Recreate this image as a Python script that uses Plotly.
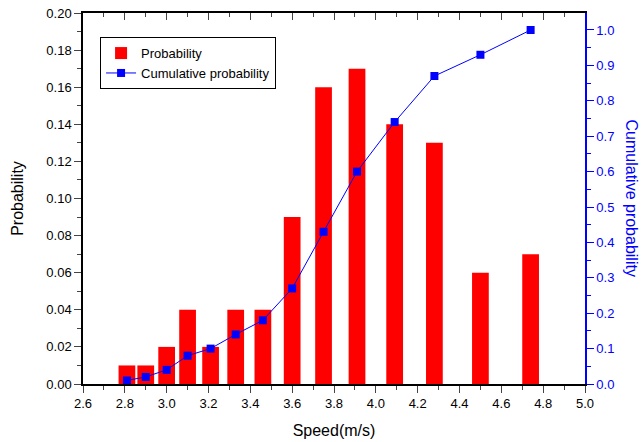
import plotly.graph_objects as go

speeds = [2.81, 2.90, 3.00, 3.10, 3.21, 3.33, 3.46, 3.60, 3.75, 3.91, 4.09, 4.28, 4.50, 4.74]
probability = [0.01, 0.01, 0.02, 0.04, 0.02, 0.04, 0.04, 0.09, 0.16, 0.17, 0.14, 0.13, 0.06, 0.07]
cumulative = [0.01, 0.02, 0.04, 0.08, 0.10, 0.14, 0.18, 0.27, 0.43, 0.60, 0.74, 0.87, 0.93, 1.00]

FONT = "Liberation Sans, Arial, sans-serif"
BLUE = "#0000ff"

fig = go.Figure()
fig.add_trace(go.Bar(x=speeds, y=probability, width=0.08, name="Probability",
                     marker=dict(color="#ff0000", line=dict(width=0))))
fig.add_trace(go.Scatter(x=speeds, y=cumulative, yaxis="y2", name="Cumulative probability",
                         mode="lines+markers", line=dict(color=BLUE, width=1),
                         marker=dict(symbol="square", size=8, color=BLUE)))
fig.add_trace(go.Scatter(x=[2.6, 5.0], y=[0, 0], xaxis="x2", mode="markers",
                         marker=dict(opacity=0), showlegend=False, hoverinfo="skip"))

fig.update_layout(
    template="none",
    width=642, height=442,
    margin=dict(l=83, r=57, t=13, b=58, pad=0),
    paper_bgcolor="white", plot_bgcolor="white",
    font=dict(family=FONT, size=13, color="black"),
    showlegend=True,
    legend=dict(x=0.034, y=0.935, xanchor="left", yanchor="top",
                bordercolor="black", borderwidth=1, bgcolor="white",
                font=dict(size=13), tracegroupgap=0),
    xaxis=dict(range=[2.6, 5.0], dtick=0.2, tickformat=".1f", ticks="outside", ticklen=7,
               tickwidth=1, showline=True, linecolor="black", linewidth=1.5, showgrid=False,
               zeroline=False, tickfont=dict(size=13), automargin=False,
               minor=dict(dtick=0.1, ticks="outside", ticklen=4, tickwidth=1, showgrid=False),
               title=dict(text="Speed(m/s)", font=dict(size=16), standoff=14)),
    xaxis2=dict(range=[2.6, 5.0], dtick=0.2, overlaying="x", side="top", anchor="y",
                ticks="inside", ticklen=7, showticklabels=False, showline=True,
                linecolor="black", linewidth=1.5, showgrid=False, zeroline=False,
                automargin=False,
                minor=dict(dtick=0.1, ticks="inside", ticklen=4, showgrid=False)),
    yaxis=dict(range=[0, 0.2], dtick=0.02, tickformat=".2f", ticks="outside", ticklen=7,
               showline=True, linecolor="black", linewidth=1.5, showgrid=False,
               zeroline=False, tickfont=dict(size=13), automargin=False,
               minor=dict(dtick=0.01, ticks="outside", ticklen=4, showgrid=False),
               title=dict(text="Probability", font=dict(size=16), standoff=19)),
    yaxis2=dict(range=[0, 1.048], dtick=0.1, tickformat=".1f", overlaying="y", side="right",
                anchor="x", ticks="outside", ticklen=7, tickcolor=BLUE,
                showline=True, linecolor=BLUE, linewidth=1.5, showgrid=False, zeroline=False,
                tickfont=dict(size=13, color=BLUE), automargin=False,
                minor=dict(dtick=0.05, ticks="outside", ticklen=4, tickcolor=BLUE, showgrid=False)),
    annotations=[dict(text="Cumulative probability", textangle=90, x=1.0936, y=0.5,
                      xanchor="center", yanchor="middle",
                      xref="paper", yref="paper", showarrow=False,
                      font=dict(size=16, color=BLUE, family=FONT))],
)

fig.write_html("out.html", config={"displayModeBar": False},
               post_script="document.body.style.margin='0px';")
